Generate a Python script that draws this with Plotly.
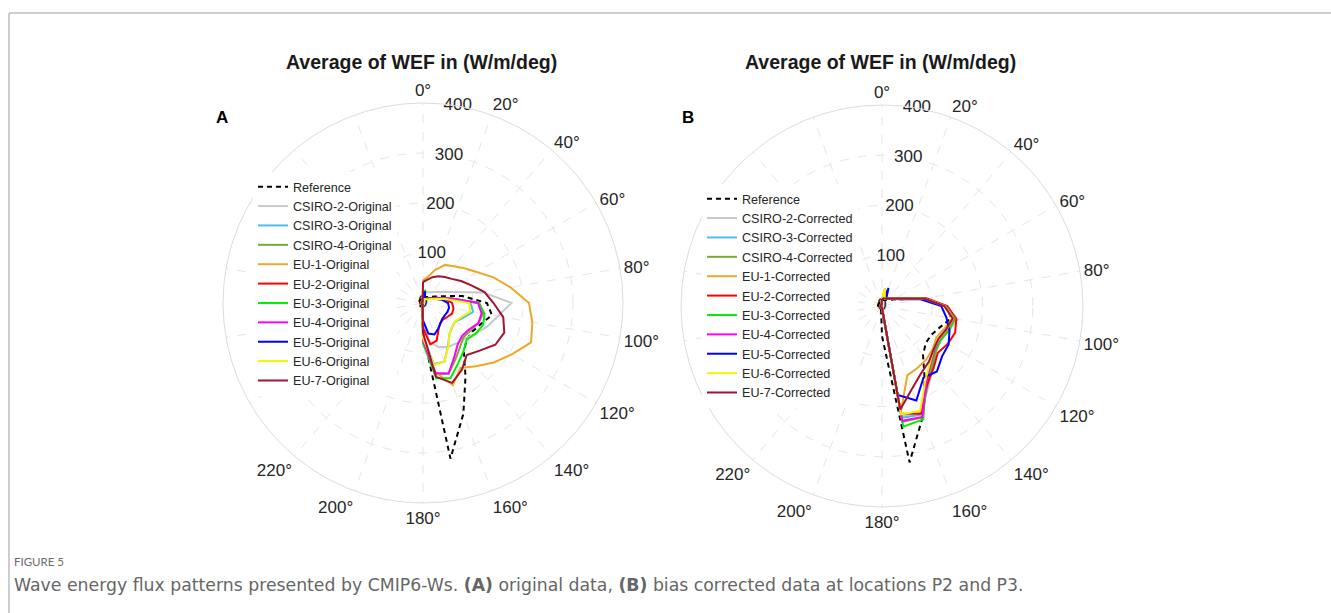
import plotly.graph_objects as go

# ---------------- data ----------------
THETA = [0, 10, 20, 30, 40, 50, 60, 70, 80, 90, 100, 110, 120, 130, 140, 150, 160, 170,
         180, 190, 200, 210, 220, 230, 240, 250, 260, 270, 280, 290, 300, 310, 320, 330, 340, 350]

angle_ticks = [0, 20, 40, 60, 80, 100, 120, 140, 160, 180, 200, 220, 240, 260, 280, 300, 320, 340]
angle_labels = ["0°", "20°", "40°", "60°", "80°", "100°", "120°", "140°", "160°", "180°", "200°", "220°",
                "", "", "", "", "", ""]
radial_ticks = [0, 100, 200, 300, 400]
radial_labels = ["0", "100", "200", "300", "400"]

reference = [12, 12, 13, 14, 16, 19, 26, 40, 80, 128, 140, 123, 114, 114, 127, 170, 236, 316,
             60, 10, 8, 8, 8, 8, 8, 8, 8, 8, 8, 8, 8, 8, 8, 8, 8, 8]

# Panel A: original
csiro2_orig = [22, 22, 23, 25, 29, 34, 44, 64, 122, 177, 152, 137, 122, 110, 105, 101, 94, 80,
               45, 4, 4, 4, 4, 4, 4, 4, 4, 4, 4, 4, 4, 4, 4, 4, 4, 4]
csiro3_orig = [8, 8, 9, 10, 11, 14, 18, 28, 50, 95, 102, 86, 74, 76, 82, 100, 125, 124,
               65, 3, 3, 3, 3, 3, 3, 3, 3, 3, 3, 3, 3, 3, 3, 3, 3, 3]
csiro4_orig = [9, 9, 10, 11, 12, 15, 20, 30, 55, 112, 122, 118, 110, 106, 115, 130, 150, 145,
               70, 3, 3, 3, 3, 3, 3, 3, 3, 3, 3, 3, 3, 3, 3, 3, 3, 3]
eu1_orig = [45, 53, 70, 88, 96, 108, 124, 150, 178, 212, 222, 230, 205, 185, 165, 150, 175, 140,
            80, 4, 4, 4, 4, 4, 4, 4, 4, 4, 4, 4, 4, 4, 4, 4, 4, 4]
eu2_orig = [10, 9, 9, 10, 12, 15, 20, 30, 45, 58, 62, 62, 56, 52, 53, 62, 80, 84,
            50, 3, 3, 3, 3, 3, 3, 3, 3, 3, 3, 3, 3, 3, 3, 3, 3, 3]
eu3_orig = [12, 27, 12, 10, 11, 13, 18, 28, 55, 112, 125, 128, 122, 114, 126, 140, 160, 153,
            80, 3, 3, 3, 3, 3, 3, 3, 3, 3, 3, 3, 3, 3, 3, 3, 3, 3]
eu4_orig = [8, 8, 9, 10, 11, 14, 18, 28, 55, 110, 119, 118, 106, 102, 108, 125, 150, 142,
            75, 3, 3, 3, 3, 3, 3, 3, 3, 3, 3, 3, 3, 3, 3, 3, 3, 3]
eu5_orig = [20, 22, 12, 10, 11, 13, 17, 25, 38, 50, 53, 52, 50, 50, 54, 60, 67, 62,
            35, 3, 3, 3, 3, 3, 3, 3, 3, 3, 3, 3, 3, 3, 3, 3, 3, 3]
eu6_orig = [8, 8, 8, 9, 10, 12, 16, 24, 45, 92, 96, 82, 74, 75, 82, 101, 125, 126,
            70, 3, 3, 3, 3, 3, 3, 3, 3, 3, 3, 3, 3, 3, 3, 3, 3, 3]
eu7_orig = [42, 47, 55, 62, 68, 75, 88, 103, 125, 141, 163, 173, 167, 148, 136, 155, 170, 150,
            60, 3, 3, 3, 3, 3, 3, 3, 3, 3, 3, 3, 3, 3, 3, 3, 3, 3]

# Panel B: corrected
csiro2_corr = [14, 15, 16, 17, 19, 23, 30, 45, 88, 128, 153, 142, 136, 140, 158, 185, 226, 222,
               4, 3, 3, 3, 3, 3, 3, 3, 3, 3, 3, 3, 3, 3, 3, 3, 3, 3]
csiro3_corr = [14, 15, 16, 17, 19, 23, 30, 44, 86, 126, 146, 138, 132, 138, 155, 182, 230, 226,
               4, 3, 3, 3, 3, 3, 3, 3, 3, 3, 3, 3, 3, 3, 3, 3, 3, 3]
csiro4_corr = [14, 15, 16, 17, 19, 23, 30, 44, 86, 127, 148, 140, 134, 140, 157, 178, 236, 234,
               4, 3, 3, 3, 3, 3, 3, 3, 3, 3, 3, 3, 3, 3, 3, 3, 3, 3]
eu1_corr = [14, 36, 16, 17, 19, 23, 30, 44, 84, 124, 142, 132, 125, 132, 138, 142, 147, 215,
            4, 3, 3, 3, 3, 3, 3, 3, 3, 3, 3, 3, 3, 3, 3, 3, 3, 3]
eu2_corr = [15, 16, 17, 18, 20, 24, 32, 47, 90, 130, 150, 155, 151, 145, 160, 180, 228, 217,
            4, 3, 3, 3, 3, 3, 3, 3, 3, 3, 3, 3, 3, 3, 3, 3, 3, 3]
eu3_corr = [14, 15, 16, 17, 19, 23, 30, 44, 86, 127, 147, 142, 135, 138, 152, 175, 240, 244,
            4, 3, 3, 3, 3, 3, 3, 3, 3, 3, 3, 3, 3, 3, 3, 3, 3, 3]
eu4_corr = [14, 15, 16, 17, 19, 23, 30, 44, 86, 126, 145, 138, 132, 136, 150, 176, 235, 232,
            4, 3, 3, 3, 3, 3, 3, 3, 3, 3, 3, 3, 3, 3, 3, 3, 3, 3]
eu5_corr = [13, 14, 38, 17, 19, 22, 28, 40, 78, 118, 130, 143, 153, 156, 170, 165, 200, 180,
            4, 3, 3, 3, 3, 3, 3, 3, 3, 3, 3, 3, 3, 3, 3, 3, 3, 3]
eu6_corr = [14, 35, 16, 17, 19, 23, 30, 44, 85, 125, 144, 137, 131, 134, 148, 172, 222, 219,
            4, 3, 3, 3, 3, 3, 3, 3, 3, 3, 3, 3, 3, 3, 3, 3, 3, 3]
eu7_corr = [14, 15, 16, 17, 19, 23, 30, 44, 85, 124, 143, 136, 130, 134, 145, 155, 175, 209,
            4, 3, 3, 3, 3, 3, 3, 3, 3, 3, 3, 3, 3, 3, 3, 3, 3, 3]

names = ["CSIRO-2", "CSIRO-3", "CSIRO-4", "EU-1", "EU-2", "EU-3", "EU-4", "EU-5", "EU-6", "EU-7"]
series_orig = [csiro2_orig, csiro3_orig, csiro4_orig, eu1_orig, eu2_orig, eu3_orig,
               eu4_orig, eu5_orig, eu6_orig, eu7_orig]
series_corr = [csiro2_corr, csiro3_corr, csiro4_corr, eu1_corr, eu2_corr, eu3_corr,
               eu4_corr, eu5_corr, eu6_corr, eu7_corr]
colors = ["#c8c8c8", "#4DBEEE", "#77AC30", "#EDA828", "#FF0000", "#00EE00",
          "#FF00FF", "#0000FF", "#F5F500", "#A2142F"]

FONT = "Liberation Sans, Arial, sans-serif"
TXT = "#262626"


def closed(v):
    return list(v) + [v[0]]


theta_c = THETA + [THETA[0] + 360]

fig = go.Figure()

for pol, leg, series, suffix in [("polar", "legend", series_orig, "Original"),
                                 ("polar2", "legend2", series_corr, "Corrected")]:
    fig.add_trace(go.Scatterpolar(r=radial_ticks, theta=[10] * len(radial_ticks), mode="text",
                                  text=radial_labels, textfont=dict(family=FONT, size=17, color=TXT),
                                  subplot=pol, showlegend=False, hoverinfo="skip", cliponaxis=False))
    fig.add_trace(go.Scatterpolar(r=closed(reference), theta=theta_c, mode="lines", name="Reference",
                                  line=dict(color="black", width=2, dash="5px,4px"),
                                  subplot=pol, legend=leg))
    for nm, vals, col in zip(names, series, colors):
        fig.add_trace(go.Scatterpolar(r=closed(vals), theta=theta_c, mode="lines",
                                      name=f"{nm}-{suffix}", line=dict(color=col, width=2),
                                      subplot=pol, legend=leg))


def polar_cfg(dx, dy):
    return dict(
        domain=dict(x=dx, y=dy),
        bgcolor="white",
        angularaxis=dict(rotation=90, direction="clockwise", tickmode="array",
                         tickvals=angle_ticks, ticktext=angle_labels, ticks="",
                         showline=True, linecolor="#dcdcdc", linewidth=1,
                         showgrid=True, gridcolor="#e6e6e6", griddash="dash", gridwidth=1,
                         tickfont=dict(family=FONT, size=17, color=TXT)),
        radialaxis=dict(range=[0, 400], tickvals=[100, 200, 300], showticklabels=False,
                        showline=False, ticks="", showgrid=True, gridcolor="#e6e6e6",
                        griddash="dash", gridwidth=1),
    )


W, H = 1331, 613
LEG_FONT = dict(family=FONT, size=12.6, color=TXT)
fig.update_layout(
    width=W, height=H,
    margin=dict(l=0, r=0, t=0, b=0),
    paper_bgcolor="white",
    plot_bgcolor="white",
    polar=polar_cfg([223 / W, 623 / W], [1 - 503 / H, 1 - 103 / H]),
    polar2=polar_cfg([681 / W, 1083 / W], [1 - 507 / H, 1 - 105 / H]),
    legend=dict(x=253 / W, y=1 - 284 / H, xanchor="left", yanchor="middle",
                bgcolor="white", borderwidth=0, itemwidth=30, tracegroupgap=0, font=LEG_FONT),
    legend2=dict(x=702 / W, y=1 - 296 / H, xanchor="left", yanchor="middle",
                 bgcolor="white", borderwidth=0, itemwidth=30, tracegroupgap=0, font=LEG_FONT),
    showlegend=True,
)

ann = [
    dict(x=421.5 / W, y=1 - 62 / H, text="<b>Average of WEF in (W/m/deg)</b>",
         font=dict(family=FONT, size=19.5, color="#1a1a1a")),
    dict(x=881 / W, y=1 - 62 / H, text="<b>Average of WEF in (W/m/deg)</b>",
         font=dict(family=FONT, size=19.5, color="#1a1a1a")),
    dict(x=222 / W, y=1 - 117 / H, text="<b>A</b>", font=dict(family=FONT, size=17, color="black")),
    dict(x=688 / W, y=1 - 117 / H, text="<b>B</b>", font=dict(family=FONT, size=17, color="black")),
    dict(x=12 / W, y=1 - 561 / H, text="FIGURE 5", xanchor="left",
         font=dict(family="Lato, sans-serif", size=11.5, color="#6b6b6b")),
    dict(x=12 / W, y=1 - 585 / H, xanchor="left",
         text="Wave energy flux patterns presented by CMIP6-Ws. <b>(A)</b> original data, "
              "<b>(B)</b> bias corrected data at locations P2 and P3.",
         font=dict(family="DejaVu Sans, sans-serif", size=17.3, color="#666666")),
]
for a in ann:
    a.setdefault("xanchor", "center")
    a.update(xref="paper", yref="paper", yanchor="middle", showarrow=False)
fig.update_layout(annotations=ann)

fig.update_layout(shapes=[
    dict(type="line", xref="paper", yref="paper", x0=9 / W, x1=1, y0=1 - 13 / H, y1=1 - 13 / H,
         line=dict(color="#bdbdbd", width=1.5)),
    dict(type="line", xref="paper", yref="paper", x0=9 / W, x1=9 / W, y0=0, y1=1 - 13 / H,
         line=dict(color="#bdbdbd", width=1.5)),
])

fig.write_html("out.html", config={"displayModeBar": False},
               post_script="document.body.style.margin='0px';document.body.style.overflow='hidden';")
